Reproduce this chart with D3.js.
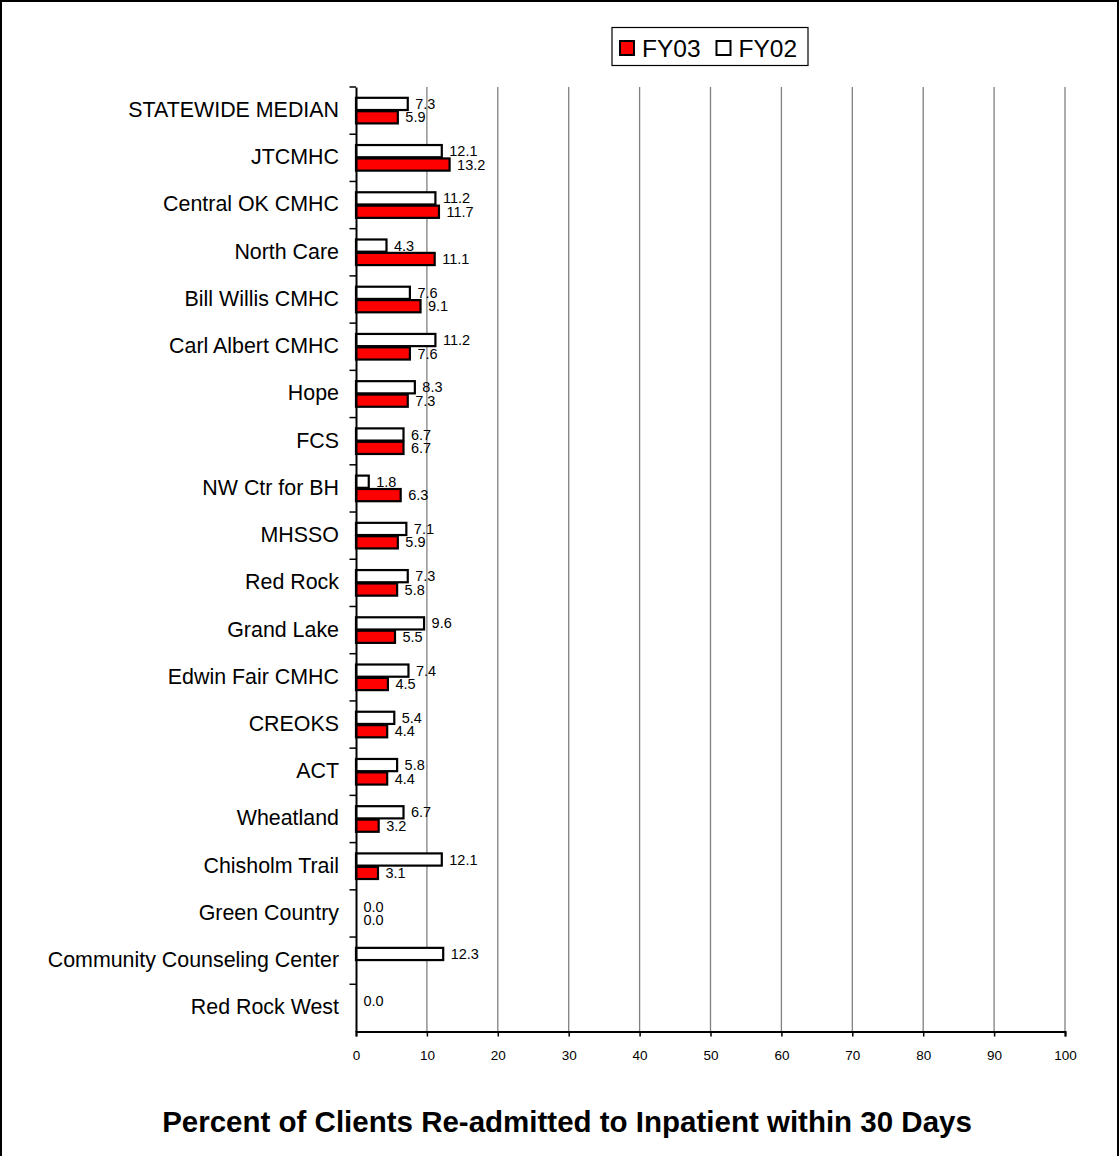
<!DOCTYPE html>
<html>
<head>
<meta charset="utf-8">
<script src="https://cdn.jsdelivr.net/npm/d3@7"></script>
<style>
  html, body { margin: 0; padding: 0; background: #fff; }
  svg { display: block; font-family: Arial, "Liberation Sans", sans-serif; }
</style>
</head>
<body>
<svg id="chart" width="1119" height="1156"></svg>
<script>
// Centres, top to bottom
const categories = [
  "STATEWIDE MEDIAN", "JTCMHC", "Central OK CMHC", "North Care", "Bill Willis CMHC",
  "Carl Albert CMHC", "Hope", "FCS", "NW Ctr for BH", "MHSSO", "Red Rock",
  "Grand Lake", "Edwin Fair CMHC", "CREOKS", "ACT", "Wheatland", "Chisholm Trail",
  "Green Country", "Community Counseling Center", "Red Rock West"
];
// Percent re-admitted within 30 days (null = no data reported)
const fy02 = [7.3, 12.1, 11.2, 4.3, 7.6, 11.2, 8.3, 6.7, 1.8, 7.1, 7.3, 9.6, 7.4, 5.4, 5.8, 6.7, 12.1, 0.0, 12.3, 0.0];
const fy03 = [5.9, 13.2, 11.7, 11.1, 9.1, 7.6, 7.3, 6.7, 6.3, 5.9, 5.8, 5.5, 4.5, 4.4, 4.4, 3.2, 3.1, 0.0, null, null];
const seriesNames = ["FY03", "FY02"];
const xTicks = [0, 10, 20, 30, 40, 50, 60, 70, 80, 90, 100];
const title = "Percent of Clients Re-admitted to Inpatient within 30 Days";

const svg = d3.select("#chart");
const W = 1119, H = 1156;

// outer frame
svg.append("rect").attr("x", 1).attr("y", 1).attr("width", W - 2).attr("height", H + 10)
  .attr("fill", "#fff").attr("stroke", "#000").attr("stroke-width", 2);

const plot = { left: 356, right: 1065, top: 87, bottom: 1031.5 };

const x = d3.scaleLinear().domain([0, 100]).range([plot.left, plot.right]);
const y = d3.scaleBand().domain(categories).range([plot.top, plot.bottom]).paddingInner(0).paddingOuter(0);

const g = svg.append("g");

// vertical gridlines
g.selectAll("line.grid").data(xTicks.filter(d => d > 0)).join("line")
  .attr("class", "grid")
  .attr("x1", d => x(d)).attr("x2", d => x(d))
  .attr("y1", plot.top).attr("y2", plot.bottom)
  .attr("stroke", "#808080").attr("stroke-width", 1.3);

const barH = 12.2;
const gap = 0.6;
const rows = categories.map((c, i) => ({ c, fy02: fy02[i], fy03: fy03[i] }));
const yCenter = c => y(c) + y.bandwidth() / 2;

// FY02 bars (white, upper)
g.selectAll("rect.fy02").data(rows.filter(d => d.fy02 != null && d.fy02 > 0)).join("rect")
  .attr("class", "fy02")
  .attr("x", x(0)).attr("y", d => yCenter(d.c) - gap - barH)
  .attr("width", d => x(d.fy02) - x(0)).attr("height", barH)
  .attr("fill", "#fff").attr("stroke", "#000").attr("stroke-width", 2.2);

// FY03 bars (red, lower)
g.selectAll("rect.fy03").data(rows.filter(d => d.fy03 != null && d.fy03 > 0)).join("rect")
  .attr("class", "fy03")
  .attr("x", x(0)).attr("y", d => yCenter(d.c) + gap)
  .attr("width", d => x(d.fy03) - x(0)).attr("height", barH)
  .attr("fill", "#ff0000").attr("stroke", "#000").attr("stroke-width", 2.2);

// value labels
g.selectAll("text.l02").data(rows.filter(d => d.fy02 != null)).join("text")
  .attr("class", "l02")
  .attr("x", d => x(d.fy02) + 7.5).attr("y", d => yCenter(d.c) - gap - barH / 2)
  .attr("dy", "0.35em").attr("font-size", 14.5).attr("fill", "#000")
  .text(d => d.fy02.toFixed(1));
g.selectAll("text.l03").data(rows.filter(d => d.fy03 != null)).join("text")
  .attr("class", "l03")
  .attr("x", d => x(d.fy03) + 7.5).attr("y", d => yCenter(d.c) + gap + barH / 2)
  .attr("dy", "0.35em").attr("font-size", 14.5).attr("fill", "#000")
  .text(d => d.fy03.toFixed(1));

// category axis
const yAxis = g.append("g").attr("transform", `translate(${plot.left},0)`)
  .call(d3.axisLeft(y).tickSize(0).tickPadding(17));
yAxis.select(".domain").attr("stroke", "#000").attr("stroke-width", 2);
yAxis.selectAll("text").attr("font-size", 21.4).attr("fill", "#000")
  .attr("dy", "0.3em")
  .attr("font-family", "Arial, 'Liberation Sans', sans-serif");
// tick marks between categories
const bounds = categories.map(c => y(c));
yAxis.selectAll("line.sep").data(bounds).join("line")
  .attr("class", "sep").attr("x1", -6.5).attr("x2", 0)
  .attr("y1", d => d).attr("y2", d => d)
  .attr("stroke", "#000").attr("stroke-width", 1.5);

// value axis
const xAxis = g.append("g").attr("transform", `translate(0,${plot.bottom})`)
  .call(d3.axisBottom(x).tickValues(xTicks).tickSize(5).tickPadding(14).tickFormat(d3.format("d")));
xAxis.select(".domain").attr("stroke", "#000").attr("stroke-width", 2);
xAxis.selectAll(".tick line").attr("stroke", "#000").attr("stroke-width", 1.5);
xAxis.selectAll("text").attr("font-size", 13.5).attr("fill", "#000")
  .attr("font-family", "Arial, 'Liberation Sans', sans-serif");

// legend
const leg = svg.append("g").attr("transform", "translate(612,27.5)");
leg.append("rect").attr("width", 196).attr("height", 38)
  .attr("fill", "#fff").attr("stroke", "#000").attr("stroke-width", 1.2);
const legColors = ["#ff0000", "#fff"];
const legX = [8, 104.5];
seriesNames.forEach((s, i) => {
  leg.append("rect").attr("x", legX[i]).attr("y", 13.5).attr("width", 14).attr("height", 14)
    .attr("fill", legColors[i]).attr("stroke", "#000").attr("stroke-width", 2);
  leg.append("text").attr("x", legX[i] + 22).attr("y", 20.5).attr("dy", "0.35em")
    .attr("font-size", 24.5).attr("fill", "#000").text(s);
});

// title
svg.append("text").attr("x", 567).attr("y", 1131.5).attr("text-anchor", "middle")
  .attr("font-size", 29.5).attr("font-weight", "bold").attr("fill", "#000").text(title);
</script>
</body>
</html>
